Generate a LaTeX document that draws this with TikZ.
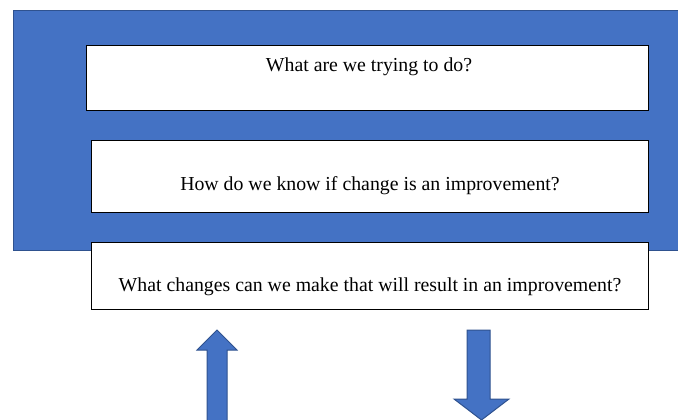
\documentclass[tikz,border=0pt]{standalone}
\usepackage{fontspec}
\setmainfont{Liberation Serif}
\begin{document}
\definecolor{panelblue}{RGB}{68,114,196}
\definecolor{paneledge}{RGB}{47,82,143}
\begin{tikzpicture}[x=1pt,y=-1pt,
  question/.style={draw=black,line width=0.9pt,fill=white},
  qtext/.style={font=\fontsize{19.8}{24}\selectfont,inner sep=0pt},
  blockarrow/.style={fill=panelblue,draw=paneledge,line width=1pt,line join=miter}]
  \useasboundingbox (0,0) rectangle (678,420);
  % blue backdrop panel, running off the right edge
  \fill[panelblue] (13,10.5) rectangle (678,250.5);
  \draw[paneledge,line width=1pt] (678,10.5) -- (13,10.5) -- (13,250.5) -- (678,250.5);
  % the three question boxes
  \draw[question] (86,45) rectangle (648,110);
  \draw[question] (91.5,140) rectangle (648,212.5);
  \draw[question] (91.5,242.5) rectangle (648,309.5);
  \node[qtext] (q1) at (369,66.5) {What are we trying to do?};
  \node[qtext] (q2) at (370,185.5) {How do we know if change is an improvement?};
  \node[qtext] (q3) at (370,286.5) {What changes can we make that will result in an improvement?};
  % block arrows below the boxes
  \draw[blockarrow] (207,425) -- (207,350) -- (197,350) -- (217,330) -- (237,350) -- (227,350) -- (227,425) -- cycle;
  \draw[blockarrow] (467,330) -- (490,330) -- (490,399) -- (509,399) -- (481.5,420) -- (454,399) -- (467,399) -- cycle;
\end{tikzpicture}
\end{document}
